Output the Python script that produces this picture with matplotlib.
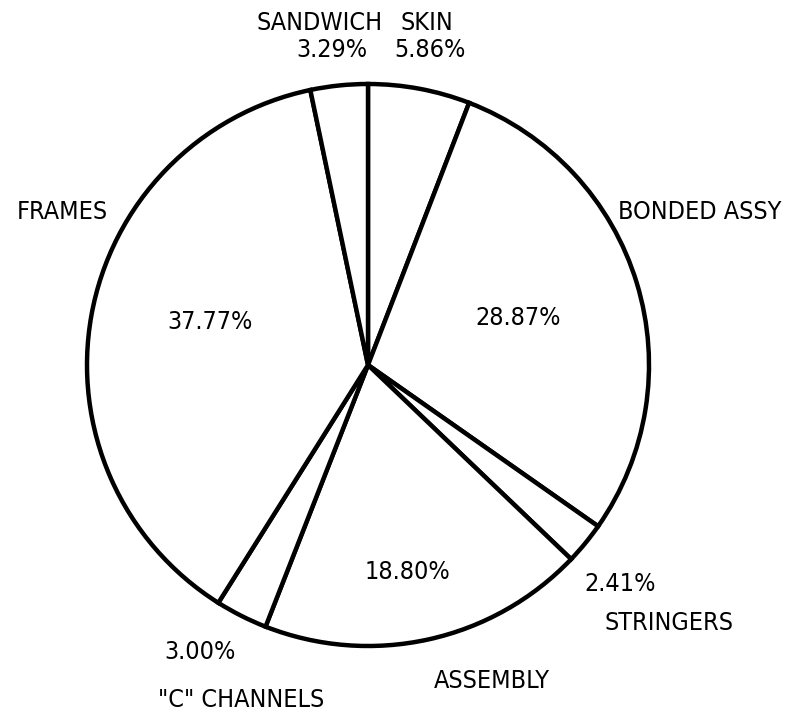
import matplotlib
matplotlib.use("Agg")
import matplotlib.pyplot as plt
from matplotlib import font_manager

# cost breakdown by component, clockwise from 12 o'clock
names = ["SKIN", "BONDED ASSY", "STRINGERS", "ASSEMBLY", '"C" CHANNELS', "FRAMES", "SANDWICH"]
shares = [5.86, 28.87, 2.41, 18.80, 3.00, 37.77, 3.29]

# label anchors in pie-radius units (centre = 0,0)
name_pos = [(0.21, 1.217), (1.18, 0.545), (1.07, -0.917), (0.441, -1.125),
            (-0.451, -1.193), (-1.089, 0.545), (-0.171, 1.217)]
pct_pos = [(0.221, 1.121), (0.534, 0.167), (0.897, -0.778), (0.139, -0.737),
           (-0.598, -1.021), (-0.562, 0.153), (-0.128, 1.121)]

# narrow face for the labels if one is around
fp = font_manager.FontProperties(family="DejaVu Sans", stretch="condensed")
path = font_manager.findfont(fp, fallback_to_default=True)
if "Condensed" not in path:
    fp = font_manager.FontProperties(family="Liberation Sans Narrow")
    path = font_manager.findfont(fp, fallback_to_default=True)
    if "Narrow" not in path:
        fp = font_manager.FontProperties(family="DejaVu Sans")
fp.set_size(18)

fig = plt.figure(figsize=(7.87, 7.16), dpi=100)
ax = fig.add_axes([0, 0, 1, 1])
ax.pie(shares, startangle=90, counterclock=False, radius=1,
       colors=["white"] * len(shares),
       wedgeprops=dict(edgecolor="black", linewidth=3.2))
ax.set_xlim(-1.3096, 1.4911)
ax.set_ylim(-1.2491, 1.2989)
ax.set_aspect("equal")
ax.axis("off")

for n, v, (nx, ny), (px, py) in zip(names, shares, name_pos, pct_pos):
    ax.text(nx, ny, n, ha="center", va="center", fontproperties=fp)
    ax.text(px, py, f"{v:.2f}%", ha="center", va="center", fontproperties=fp)

fig.savefig("out.png", dpi=100, facecolor="white")
